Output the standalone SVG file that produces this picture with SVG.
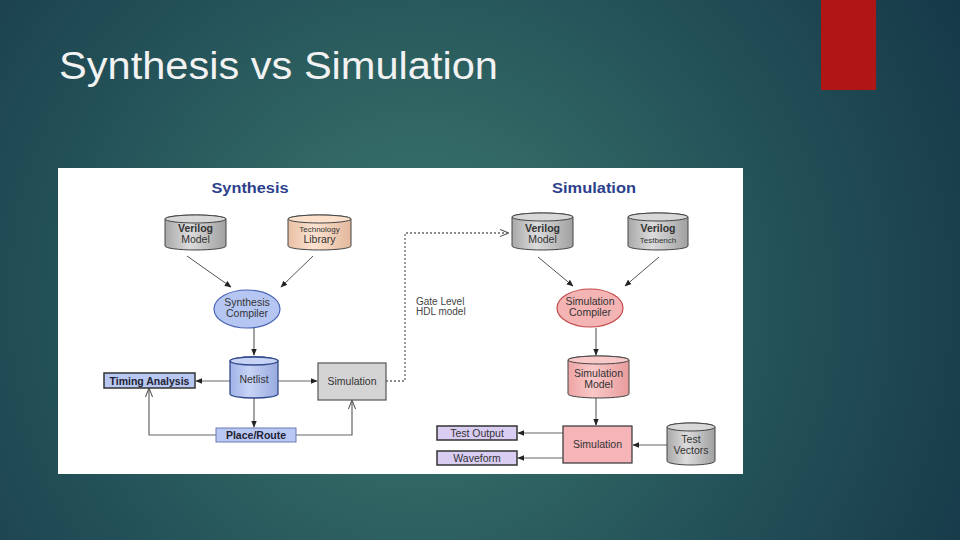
<svg xmlns="http://www.w3.org/2000/svg" width="960" height="540" viewBox="0 0 960 540">
<defs>
<radialGradient id="bg" cx="420" cy="300" r="620" gradientUnits="userSpaceOnUse">
<stop offset="0" stop-color="#3e7a6e"/>
<stop offset="0.55" stop-color="#25545a"/>
<stop offset="1" stop-color="#163848"/>
</radialGradient>
<linearGradient id="gGray" x1="0" x2="1" y1="0" y2="0">
<stop offset="0" stop-color="#a8a8a8"/><stop offset="0.4" stop-color="#dcdcdc"/><stop offset="1" stop-color="#a0a0a0"/>
</linearGradient>
<linearGradient id="gPeach" x1="0" x2="1" y1="0" y2="0">
<stop offset="0" stop-color="#e8c0a4"/><stop offset="0.4" stop-color="#fbe2d0"/><stop offset="1" stop-color="#e2b89c"/>
</linearGradient>
<linearGradient id="gBlue" x1="0" x2="1" y1="0" y2="0">
<stop offset="0" stop-color="#9fb2e6"/><stop offset="0.4" stop-color="#c8d4f6"/><stop offset="1" stop-color="#98aadf"/>
</linearGradient>
<linearGradient id="gPink" x1="0" x2="1" y1="0" y2="0">
<stop offset="0" stop-color="#eea4a4"/><stop offset="0.4" stop-color="#f9c8c8"/><stop offset="1" stop-color="#e89c9c"/>
</linearGradient>
<marker id="ah" viewBox="0 0 10 10" refX="9" refY="5" markerWidth="7" markerHeight="7" orient="auto" markerUnits="userSpaceOnUse">
<path d="M0,1 L10,5 L0,9 Z" fill="#222"/>
</marker>
<marker id="ao" viewBox="0 0 10 10" refX="9" refY="5" markerWidth="9" markerHeight="9" orient="auto" markerUnits="userSpaceOnUse">
<path d="M0,1 L10,5 L0,9" fill="none" stroke="#555" stroke-width="1.2"/>
</marker>
<style>
.t{font-family:"Liberation Sans",Arial,sans-serif;font-size:10.5px;fill:#333;text-anchor:middle}
.b{font-weight:bold}
.h{font-family:"Liberation Sans",Arial,sans-serif;font-size:14px;fill:#2c3f8c;text-anchor:middle;font-weight:bold}
.c{stroke:#555;stroke-width:1;fill:none}
.ln{stroke:#666;stroke-width:1.2;fill:none}
.cyl{stroke:#444;stroke-width:1}
.box{stroke:#333;stroke-width:1.5}
</style>
</defs>
<rect width="960" height="540" fill="url(#bg)"/>
<rect x="821" y="0" width="55" height="90" fill="#b01616"/>
<text x="59" y="79" font-family="'Liberation Sans',Arial,sans-serif" font-size="38" fill="#f2f2f2" textLength="439" lengthAdjust="spacingAndGlyphs">Synthesis vs Simulation</text>
<rect x="58" y="168" width="685" height="306" fill="#ffffff"/>
<text class="h" x="250" y="193" textLength="77" lengthAdjust="spacingAndGlyphs">Synthesis</text>
<text class="h" x="594" y="193" textLength="84" lengthAdjust="spacingAndGlyphs">Simulation</text>

<g id="connectors">
<line class="c" x1="187" y1="256" x2="231" y2="287" marker-end="url(#ah)"/>
<line class="c" x1="313" y1="256" x2="281" y2="287" marker-end="url(#ah)"/>
<line class="ln" x1="254" y1="328" x2="254" y2="355" marker-end="url(#ah)"/>
<line class="ln" x1="230" y1="381" x2="196" y2="381" marker-end="url(#ah)"/>
<line class="ln" x1="278" y1="381" x2="317" y2="381" marker-end="url(#ah)"/>
<line class="ln" x1="254" y1="398" x2="254" y2="427" marker-end="url(#ah)"/>
<polyline class="ln" points="216,435 149,435 149,389" marker-end="url(#ao)"/>
<polyline class="ln" points="296,435 352,435 352,401" marker-end="url(#ao)"/>
<polyline points="386,381 405,381 405,233 508,233" fill="none" stroke="#666" stroke-width="1.3" stroke-dasharray="2,2" marker-end="url(#ao)"/>
<line class="c" x1="538" y1="257" x2="573" y2="286" marker-end="url(#ah)"/>
<line class="c" x1="659" y1="257" x2="625" y2="286" marker-end="url(#ah)"/>
<line class="ln" x1="596" y1="328" x2="596" y2="355" marker-end="url(#ah)"/>
<line class="ln" x1="596" y1="398" x2="596" y2="425" marker-end="url(#ah)"/>
<line class="ln" x1="563" y1="433" x2="518" y2="433" marker-end="url(#ah)"/>
<line class="ln" x1="563" y1="458" x2="518" y2="458" marker-end="url(#ah)"/>
<line class="ln" x1="667" y1="445" x2="633" y2="445" marker-end="url(#ah)"/>
<text x="416" y="305" font-family="'Liberation Sans',Arial,sans-serif" font-size="10" fill="#444">Gate Level</text>
<text x="416" y="315" font-family="'Liberation Sans',Arial,sans-serif" font-size="10" fill="#444">HDL model</text>
</g>

<g id="syn-verilog">
<path class="cyl" fill="url(#gGray)" d="M165,219 A30.5,4 0 0 1 226,219 V246 A30.5,4 0 0 1 165,246 Z"/>
<ellipse class="cyl" cx="195.5" cy="219" rx="30.5" ry="4" fill="#d8d8d8"/>
<text class="t b" x="195.5" y="232">Verilog</text>
<text class="t" x="195.5" y="243">Model</text>
</g>
<g id="syn-techlib">
<path class="cyl" fill="url(#gPeach)" d="M288,219 A31.5,4 0 0 1 351,219 V246 A31.5,4 0 0 1 288,246 Z"/>
<ellipse class="cyl" cx="319.5" cy="219" rx="31.5" ry="4" fill="#fbe0cc"/>
<text class="t" x="319.5" y="232" style="font-size:8px">Technology</text>
<text class="t" x="319.5" y="243">Library</text>
</g>
<g id="syn-compiler">
<ellipse cx="247" cy="309" rx="33" ry="19" fill="#b6c6f2" stroke="#4a64b4" stroke-width="1.2"/>
<text class="t" x="247" y="306">Synthesis</text>
<text class="t" x="247" y="317">Compiler</text>
</g>
<g id="netlist">
<path d="M230,361 A24,4 0 0 1 278,361 V394 A24,4 0 0 1 230,394 Z" fill="url(#gBlue)" stroke="#334a8a" stroke-width="1.3"/>
<ellipse cx="254" cy="361" rx="24" ry="4" fill="#c8d4f6" stroke="#334a8a" stroke-width="1.3"/>
<text class="t" x="254" y="383">Netlist</text>
</g>
<g id="timing">
<rect class="box" x="104" y="373" width="91" height="15" fill="#b8c8f2" stroke="#2c3c70"/>
<text class="t b" x="149.5" y="384.5" style="fill:#223">Timing Analysis</text>
</g>
<g id="syn-sim">
<rect x="318" y="363" width="68" height="37" fill="#d4d4d4" stroke="#555" stroke-width="1.2"/>
<text class="t" x="352" y="385">Simulation</text>
</g>
<g id="placeroute">
<rect x="216" y="428" width="80" height="14" fill="#b8c8f2" stroke="#6a7ab0" stroke-width="1"/>
<text class="t b" x="256" y="439" style="fill:#223">Place/Route</text>
</g>

<g id="sim-verilog">
<path class="cyl" fill="url(#gGray)" d="M512,217 A30.5,4 0 0 1 573,217 V246 A30.5,4 0 0 1 512,246 Z"/>
<ellipse class="cyl" cx="542.5" cy="217" rx="30.5" ry="4" fill="#d8d8d8"/>
<text class="t b" x="542.5" y="232">Verilog</text>
<text class="t" x="542.5" y="243">Model</text>
</g>
<g id="sim-testbench">
<path class="cyl" fill="url(#gGray)" d="M628,217 A30,4 0 0 1 688,217 V246 A30,4 0 0 1 628,246 Z"/>
<ellipse class="cyl" cx="658" cy="217" rx="30" ry="4" fill="#d8d8d8"/>
<text class="t b" x="658" y="232">Verilog</text>
<text class="t" x="658" y="243" style="font-size:8px">Testbench</text>
</g>
<g id="sim-compiler">
<ellipse cx="590" cy="308" rx="33" ry="19" fill="#f4b4b4" stroke="#c04848" stroke-width="1.2"/>
<text class="t" x="590" y="305">Simulation</text>
<text class="t" x="590" y="316">Compiler</text>
</g>
<g id="sim-model">
<path d="M568,360 A30.5,4 0 0 1 629,360 V394 A30.5,4 0 0 1 568,394 Z" fill="url(#gPink)" stroke="#444" stroke-width="1"/>
<ellipse cx="598.5" cy="360" rx="30.5" ry="4" fill="#f9c8c8" stroke="#444" stroke-width="1"/>
<text class="t" x="598.5" y="377">Simulation</text>
<text class="t" x="598.5" y="388">Model</text>
</g>
<g id="sim-sim">
<rect x="563" y="426" width="69" height="37" fill="#f4b4b8" stroke="#333" stroke-width="1.2"/>
<text class="t" x="597.5" y="448">Simulation</text>
</g>
<g id="testoutput">
<rect class="box" x="437" y="426" width="80" height="14" fill="#dacdf2"/>
<text class="t" x="477" y="437">Test Output</text>
</g>
<g id="waveform">
<rect class="box" x="437" y="451" width="80" height="14" fill="#dacdf2"/>
<text class="t" x="477" y="462">Waveform</text>
</g>
<g id="testvectors">
<path class="cyl" fill="url(#gGray)" d="M667,427 A24,4 0 0 1 715,427 V461 A24,4 0 0 1 667,461 Z"/>
<ellipse class="cyl" cx="691" cy="427" rx="24" ry="4" fill="#d8d8d8"/>
<text class="t" x="691" y="443">Test</text>
<text class="t" x="691" y="454">Vectors</text>
</g>
</svg>
